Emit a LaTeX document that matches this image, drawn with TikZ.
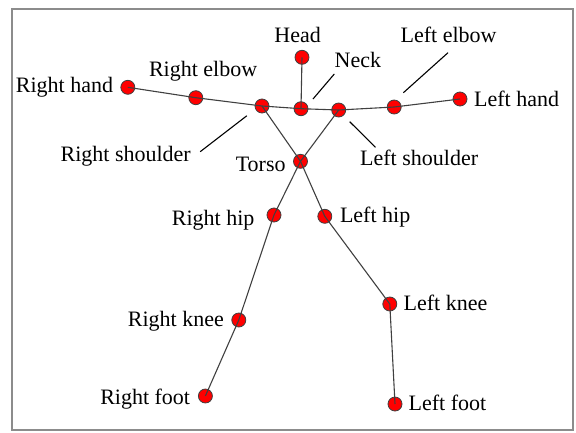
\documentclass[tikz,border=0pt]{standalone}
\usepackage{fontspec}
\setmainfont{Liberation Serif}
\begin{document}
\begin{tikzpicture}[x=1pt,y=-1pt,
  joint/.style={circle,fill=red,draw=black!75,line width=0.8pt,minimum size=14pt,inner sep=0pt},
  bone/.style={draw=black!75,line width=1.1pt},
  lbl/.style={inner sep=0pt,font=\fontsize{22}{25}\selectfont},
  leader/.style={draw=black,line width=1.1pt}]
% canvas and frame
\useasboundingbox (0,0) rectangle (576,432);
\draw[draw=black!45,line width=2pt] (11.5,8.5) rectangle (573.3,430.3);

% joints
\node[joint] (rhand) at (127.8,87.3) {};
\node[joint] (relbow) at (195.8,97.7) {};
\node[joint] (rshoulder) at (262,106) {};
\node[joint] (neck) at (301,108.7) {};
\node[joint] (head) at (302,57.3) {};
\node[joint] (lshoulder) at (338.7,110) {};
\node[joint] (lelbow) at (394.2,107) {};
\node[joint] (lhand) at (460,99) {};
\node[joint] (torso) at (300.5,161.3) {};
\node[joint] (rhip) at (274,215) {};
\node[joint] (lhip) at (324.8,216.3) {};
\node[joint] (rknee) at (238.8,320) {};
\node[joint] (lknee) at (389.8,304) {};
\node[joint] (rfoot) at (205.4,396) {};
\node[joint] (lfoot) at (395,404) {};

% skeleton bones, drawn over the joints
\draw[bone] (rhand.center) -- (relbow.center) -- (rshoulder.center) -- (neck.center)
  -- (lshoulder.center) -- (lelbow.center) -- (lhand.center);
\draw[bone] (head.center) -- (neck.center);
\draw[bone] (rshoulder.center) -- (torso.center) -- (lshoulder.center);
\draw[bone] (torso.center) -- (rhip.center) -- (rknee.center) -- (rfoot.center);
\draw[bone] (torso.center) -- (lhip.center) -- (lknee.center) -- (lfoot.center);

% labels
\node[lbl,anchor=base] (tHead) at (297.6,42) {Head};
\node[lbl,anchor=base west] (tNeck) at (334.5,67.7) {Neck};
\node[lbl,anchor=base west] (tLelbow) at (400.4,42.7) {Left elbow};
\node[lbl,anchor=base west] (tRelbow) at (148.8,76.7) {Right elbow};
\node[lbl,anchor=base east] (tRhand) at (113.3,92.3) {Right hand};
\node[lbl,anchor=base west] (tLhand) at (474,106.7) {Left hand};
\node[lbl,anchor=base east] (tRshoulder) at (191,161.7) {Right shoulder};
\node[lbl,anchor=base west] (tLshoulder) at (360,165) {Left shoulder};
\node[lbl,anchor=base east] (tTorso) at (285.8,171) {Torso};
\node[lbl,anchor=base east] (tRhip) at (254.6,225) {Right hip};
\node[lbl,anchor=base west] (tLhip) at (339.8,222.7) {Left hip};
\node[lbl,anchor=base east] (tRknee) at (224,326.7) {Right knee};
\node[lbl,anchor=base west] (tLknee) at (403.4,310) {Left knee};
\node[lbl,anchor=base east] (tRfoot) at (190.3,404) {Right foot};
\node[lbl,anchor=base west] (tLfoot) at (408.5,410) {Left foot};

% leader lines
\coordinate (nA) at (334.3,74);   \coordinate (nB) at (313,99);
\coordinate (eA) at (448,52.7);   \coordinate (eB) at (403.4,92.7);
\coordinate (rsA) at (200.2,151.7); \coordinate (rsB) at (246.9,115.7);
\coordinate (lsA) at (349.7,121.7); \coordinate (lsB) at (375.5,147.3);
\draw[leader] (nA) -- (nB);
\draw[leader] (eA) -- (eB);
\draw[leader] (rsA) -- (rsB);
\draw[leader] (lsA) -- (lsB);
\end{tikzpicture}
\end{document}
